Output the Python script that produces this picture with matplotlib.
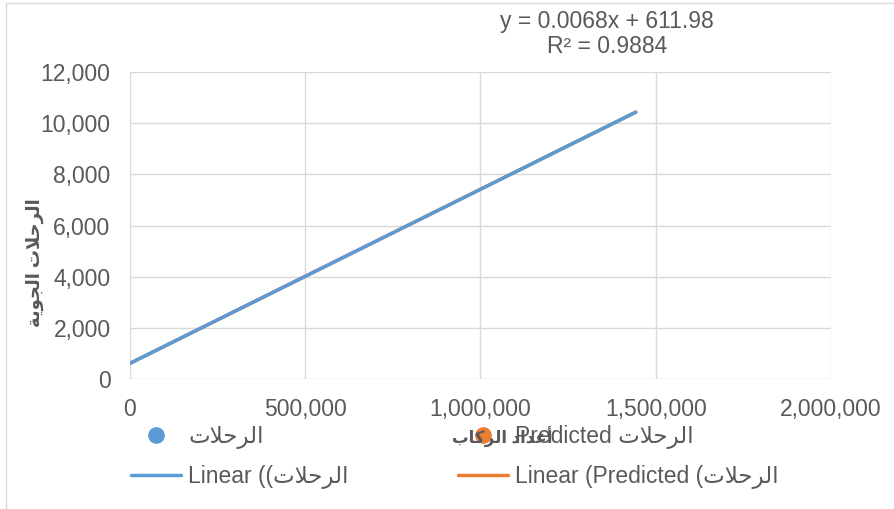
import matplotlib
matplotlib.use('Agg')
import matplotlib.pyplot as plt
import matplotlib.patches as patches
from matplotlib.ticker import FuncFormatter

plt.rcParams['font.family'] = ['Liberation Sans', 'DejaVu Sans']

# Arabic strings, pre-shaped (presentation forms) and in visual order
AR_TRIPS = '\uFE95\uFEFC\uFEA3\uFEAE\uFEDF\uFE8D'                 # الرحلات
AR_AIR = '\uFE94\uFEF3\uFEEE\uFEA0\uFEDF\uFE8D'                   # الجوية
AR_PASSENGERS = '\uFE8F\uFE8E\uFEDB\uFEAE\uFEDF\uFE8D'            # الركاب
AR_COUNTS = '\uFEA9\uFE8D\uFEAA\uFECB\uFE83'                      # أعداد

# data
trend_x = [0, 1443000]
trend_y = [612, 10430]
x_ticks = [0, 500000, 1000000, 1500000, 2000000]
y_ticks = [0, 2000, 4000, 6000, 8000, 10000, 12000]
equation = 'y = 0.0068x + 611.98\nR² = 0.9884'

blue = '#5B9BD5'
orange = '#ED7D31'
grey = '#595959'
grid = '#D9D9D9'

fig = plt.figure(figsize=(8.94, 5.09), dpi=100)
ax = fig.add_axes([130 / 894, 1 - 379 / 509, 701 / 894, 307 / 509])

# series (scatter points are not shown, only legend entries)
ax.plot([], [], 'o', color=blue, markersize=11, label=AR_TRIPS)
ax.plot(trend_x, trend_y, color=orange, lw=2.5, solid_capstyle='round',
        label='Linear (Predicted (' + AR_TRIPS)
ax.plot([], [], 'o', color=orange, markersize=11, label='Predicted ' + AR_TRIPS)
ax.plot(trend_x, trend_y, color=blue, lw=2.5, solid_capstyle='round',
        label='Linear ((' + AR_TRIPS)

ax.set_xlim(0, 2000000)
ax.set_ylim(0, 12000)
ax.set_xticks(x_ticks)
ax.set_yticks(y_ticks)
fmt = FuncFormatter(lambda v, p: f'{int(v):,}')
ax.xaxis.set_major_formatter(fmt)
ax.yaxis.set_major_formatter(fmt)
ax.tick_params(length=0, labelsize=16.5, labelcolor=grey, pad=14)
ax.grid(True, color=grid, lw=1)
ax.set_axisbelow(True)
for s in ax.spines.values():
    s.set_visible(False)

# trendline label
fig.text(607 / 894, 1 - 34 / 509, equation, ha='center', va='center',
         fontsize=16.5, color=grey, linespacing=1.15)

# axis titles
fig.text(502 / 894, 1 - 437 / 509, AR_PASSENGERS + ' ' + AR_COUNTS,
         ha='center', va='center', fontsize=12, fontweight='bold', color=grey)
fig.text(35 / 894, 1 - 263 / 509, AR_AIR + ' ' + AR_TRIPS, rotation=90,
         ha='center', va='center', fontsize=13, fontweight='bold', color=grey)

h, l = ax.get_legend_handles_labels()
order = [0, 3, 2, 1]
leg = ax.legend([h[i] for i in order], [l[i] for i in order], ncol=2,
                loc='upper left', bbox_to_anchor=(131 / 894, 1 - 425 / 509),
                bbox_transform=fig.transFigure, frameon=False, fontsize=16.5,
                handlelength=2.2, handletextpad=0.3, columnspacing=4.75,
                labelspacing=0.7, borderpad=0, borderaxespad=0)
for t in leg.get_texts():
    t.set_color(grey)

# chart border
fig.patches.append(patches.Rectangle((5.5 / 894, -0.01), 1.0, 1 - 2.5 / 509 + 0.01,
                                     transform=fig.transFigure, fill=False,
                                     edgecolor=grid, lw=1))

fig.savefig('out.png', dpi=100)
